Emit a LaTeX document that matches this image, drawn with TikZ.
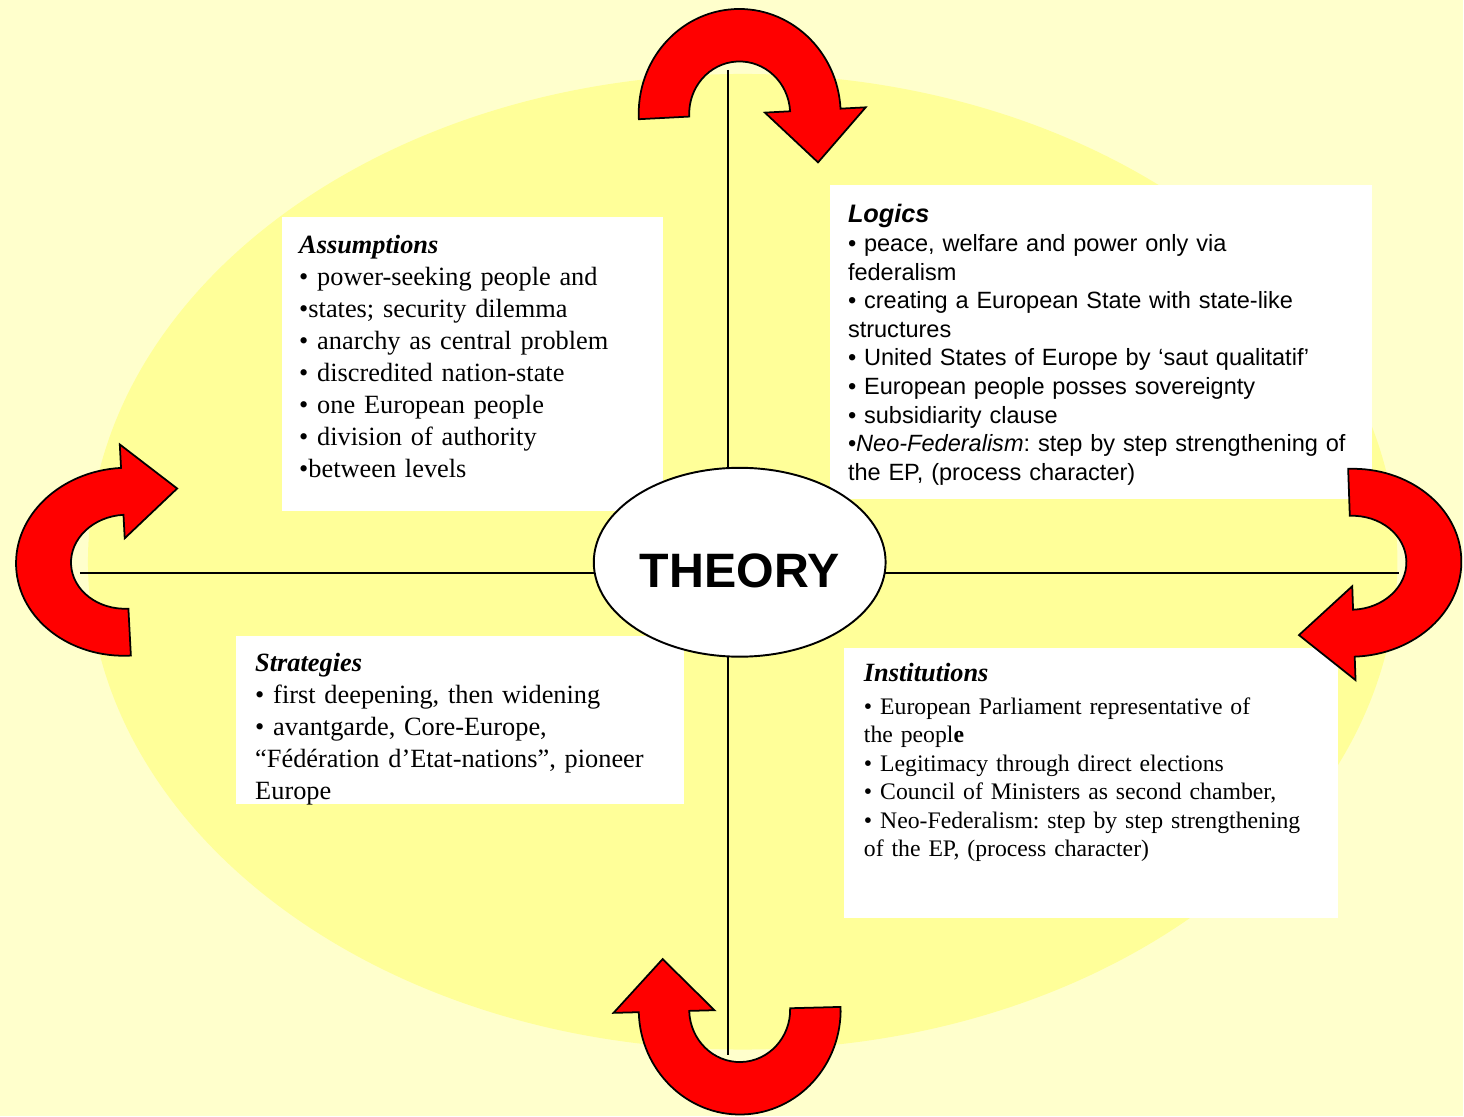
\documentclass[tikz,border=0pt]{standalone}
\usepackage{fontspec}
\setmainfont{Liberation Serif}
\setsansfont{Liberation Sans}
\usetikzlibrary{shapes.geometric}
\frenchspacing

\definecolor{paleyellow}{HTML}{FFFFCC}
\definecolor{fieldyellow}{HTML}{FFFF99}

\tikzset{
  turnarrow/.pic={
    \draw[fill=red, line width=1pt, line join=miter]
      (-100,0) arc[start angle=180, end angle=0, radius=100]
      -- (125,0) -- (75,-50) -- (25,0) -- (50,0)
      arc[start angle=0, end angle=180, radius=50] -- cycle;
  }
}

\begin{document}
\begin{tikzpicture}[
    x=0.02cm, y=0.02cm,
    quadbox/.style={fill=white, anchor=north west, inner sep=0pt},
    quadtext/.style={anchor=base west, inner sep=0pt, text width=12cm, align=left},
    hub/.style={ellipse, draw, line width=1.1pt, fill=white, inner sep=0pt,
                minimum width=5.84cm, minimum height=3.78cm},
    axis/.style={line width=1.1pt}]

\fill[paleyellow] (0,0) rectangle (1464,1116);
\fill[fieldyellow] (743,554) ellipse [x radius=655, y radius=488];

% axes
\coordinate (axtop) at (728,1046);
\coordinate (axbot) at (728,61);
\coordinate (axleft) at (80,543);
\coordinate (axright) at (1400,543);
\draw[axis] (axtop) -- (axbot);
\draw[axis] (axleft) -- (axright);

% boxes
\node (assumpbox) [quadbox, minimum width=7.62cm, minimum height=5.88cm] at (282,899) {};
\node (logicbox) [quadbox, minimum width=10.84cm, minimum height=6.28cm] at (830,931) {};
\node (stratbox) [quadbox, minimum width=8.96cm, minimum height=3.36cm] at (236,480) {};
\node (instbox) [quadbox, minimum width=9.88cm, minimum height=5.4cm] at (844,468) {};

\node (assump) [quadtext, font=\fontsize{15}{18.2}\selectfont] at (299,862)
  {\textbf{\textit{Assumptions}}\\
   • power-seeking people and\\
   •states; security dilemma\\
   • anarchy as central problem\\
   • discredited nation-state\\
   • one European people\\
   • division of authority\\
   •between levels};

\node (logic) [quadtext, font=\sffamily\fontsize{13.4}{16.28}\selectfont] at (848,893)
  {{\fontsize{14.4}{16.28}\selectfont\textbf{\textit{Logics}}}\\
   • peace, welfare and power only via\\
   federalism\\
   • creating a European State with state-like\\
   structures\\
   • United States of Europe by ‘saut qualitatif’\\
   • European people posses sovereignty\\
   • subsidiarity clause\\
   •\textit{Neo-Federalism}: step by step strengthening of\\
   the EP, (process character)};

\node (strat) [quadtext, font=\fontsize{15}{18.2}\selectfont] at (255,444)
  {\textbf{\textit{Strategies}}\\
   • first deepening, then widening\\
   • avantgarde, Core-Europe,\\
   “Fédération d’Etat-nations”, pioneer\\
   Europe};

\node (inst) [quadtext, font=\fontsize{13.5}{16.2}\selectfont] at (864,434)
  {{\fontsize{15}{16.2}\selectfont\textbf{\textit{Institutions}}}\\[2.5pt]
   • European Parliament representative of\\
   the peopl\textbf{e}\\
   • Legitimacy through direct elections\\
   • Council of Ministers as second chamber,\\
   • Neo-Federalism: step by step strengthening\\
   of the EP, (process character)};

\node (theory) [hub, font=\sffamily\bfseries\fontsize{27.5}{30}\selectfont,
                text height=1.02cm] at (740,553.5) {THEORY};

% turning arrows
\pic[rotate=3, xscale=1.01, yscale=1.05] at (740,1002) {turnarrow};
\pic[rotate=93, xscale=.94, yscale=1.1] at (126,554) {turnarrow};
\pic[rotate=181.5, xscale=1.01, yscale=1.05] at (740,106) {turnarrow};
\pic[rotate=272, xscale=.94, yscale=1.1] at (1352,553) {turnarrow};

\end{tikzpicture}
\end{document}
